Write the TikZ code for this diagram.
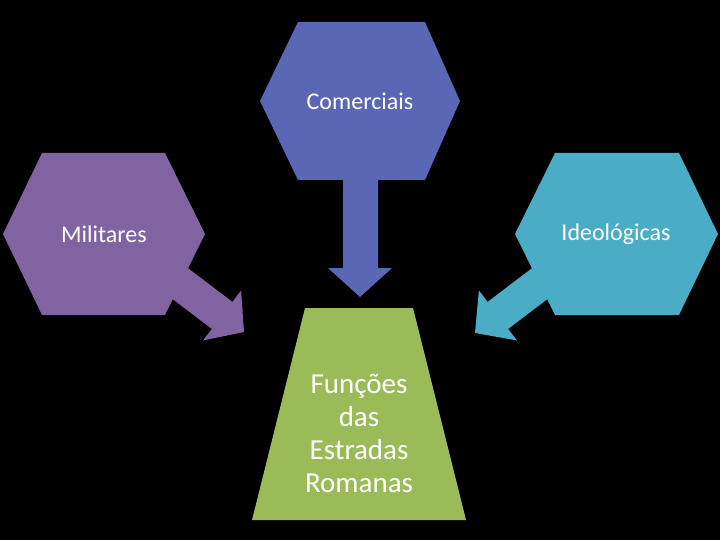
\documentclass[tikz,border=0pt]{standalone}
\usepackage{fontspec}
\setmainfont{Carlito}
\begin{document}
\begin{tikzpicture}[x=1pt,y=-1pt,
  lbl/.style={text=white,font=\fontsize{24}{28}\selectfont},
  big/.style={text=white,font=\fontsize{29}{33}\selectfont,align=center}]
\definecolor{cblue}{HTML}{5A67B5}
\definecolor{cpurp}{HTML}{8064A2}
\definecolor{ccyan}{HTML}{4BACC6}
\definecolor{cgreen}{HTML}{9BBB59}
\fill[black] (0,0) rectangle (720,540);
\useasboundingbox (0,0) rectangle (720,540);
% arrows
\fill[cpurp] (148.1,280.5) -- (211.8,328.9) -- (203.1,340.4) -- (244,332) -- (241.1,290.4) -- (232.4,301.9) -- (168.7,253.5) -- cycle;
\fill[ccyan] (571.9,280.5) -- (508.2,328.9) -- (516.9,340.4) -- (475,333) -- (478.9,290.4) -- (487.6,301.9) -- (551.3,253.5) -- cycle;
\fill[cblue] (343,170) -- (343,268) -- (328,268) -- (360,297) -- (392,268) -- (378,268) -- (378,170) -- cycle;
% shapes
\fill[cblue] (298,22) -- (425,22) -- (460,101) -- (425,180) -- (298,180) -- (260,101) -- cycle;
\fill[cpurp] (42,153) -- (165,153) -- (205,234) -- (165,315) -- (42,315) -- (3,234) -- cycle;
\fill[ccyan] (555,153) -- (679,153) -- (718,234) -- (679,315) -- (555,315) -- (515,234) -- cycle;
\fill[cgreen] (305,308) -- (413,308) -- (466,520) -- (252,520) -- cycle;
\node[lbl] (com) at (360,101) {Comerciais};
\node[lbl] (mil) at (104,234) {Militares};
\node[lbl] (ide) at (616,234) {Ideológicas};
\node[big] (fun) at (359,433) {Funções\\das\\Estradas\\Romanas};
\end{tikzpicture}
\end{document}
